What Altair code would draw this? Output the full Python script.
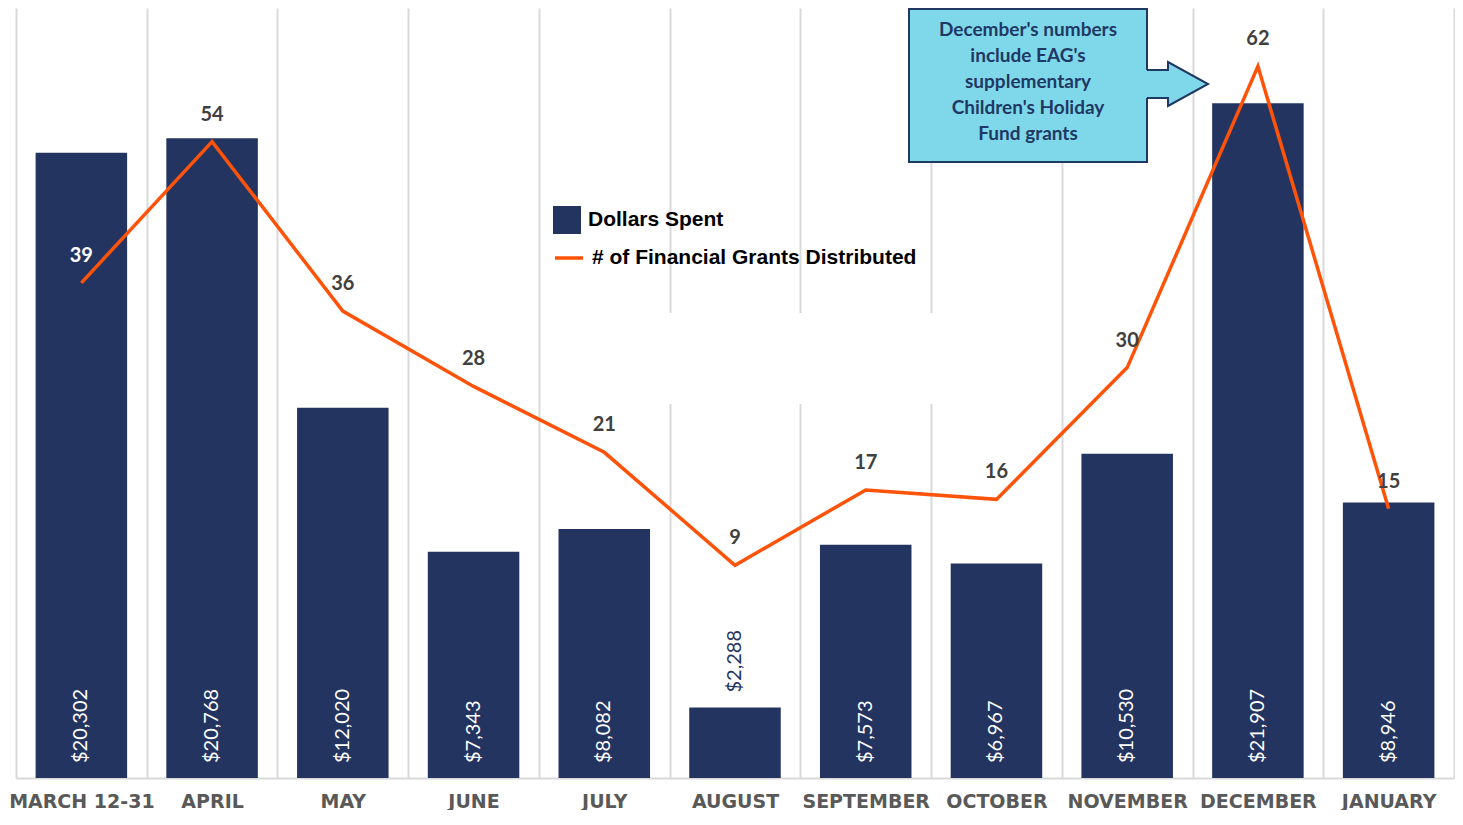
import altair as alt
import pandas as pd

months = ["MARCH 12-31", "APRIL", "MAY", "JUNE", "JULY", "AUGUST",
          "SEPTEMBER", "OCTOBER", "NOVEMBER", "DECEMBER", "JANUARY"]
dollars = [20302, 20768, 12020, 7343, 8082, 2288, 7573, 6967, 10530, 21907, 8946]
grants = [39, 54, 36, 28, 21, 9, 17, 16, 30, 62, 15]
series_names = ["Dollars Spent", "# of Financial Grants Distributed"]
callout_lines = ["December's numbers", "include EAG's", "supplementary",
                 "Children's Holiday", "Fund grants"]

NAVY = "#243461"
ORANGE = "#FF5309"
GRID = "#D9D9D9"
CYAN = "#7FD8E9"
CALLOUT_INK = "#1F3864"
W, H = 1438, 770
D_MAX = 25000
G_MIN, G_MAX = -13.6, 68.2
LABEL_LIFT = 27

df = pd.DataFrame({"month": months, "dollars": dollars, "grants": grants})
one = pd.DataFrame({"k": [0]})

xenc = alt.X(
    "month:N", sort=months,
    scale=alt.Scale(paddingInner=0, paddingOuter=0),
    axis=alt.Axis(title=None, labelAngle=0, grid=True, gridColor=GRID, gridWidth=2,
                  tickBand="extent", ticks=False, domainColor=GRID, domainWidth=2,
                  labelFont="DejaVu Sans", labelFontSize=19, labelFontWeight="bold",
                  labelColor="#595959", labelPadding=14, labelLimit=300),
)
dollar_scale = alt.Scale(domain=[0, D_MAX], nice=False, zero=False)
grant_scale = alt.Scale(domain=[G_MIN, G_MAX], nice=False, zero=False)

gap = alt.Chart(one).mark_rect(color="white").encode(
    x=alt.value(548), x2=alt.value(1030), y=alt.value(305), y2=alt.value(396))

bars = alt.Chart(df).transform_calculate(s1="'Dollars Spent'").mark_bar(
    width=alt.RelativeBandSize(0.7)
).encode(
    x=xenc,
    y=alt.Y("dollars:Q", scale=dollar_scale, axis=None),
    fill=alt.Fill("s1:N", scale=alt.Scale(domain=[series_names[0]], range=[NAVY]),
                  legend=alt.Legend(title=None, orient="none", legendX=537, legendY=198,
                                    symbolType="square", symbolSize=784, padding=0,
                                    symbolStrokeWidth=0,
                                    labelOffset=7, labelFont="Liberation Sans",
                                    labelFontSize=21, labelFontWeight="bold",
                                    labelColor="#000000", labelLimit=500)),
)

bar_labels = alt.Chart(df).transform_calculate(
    ly="datum.dollars < 4000 ? datum.dollars : 0"
).mark_text(angle=270, align="left", baseline="middle", dx=15, font="Lato", fontSize=20).encode(
    x=xenc,
    y=alt.Y("ly:Q", scale=dollar_scale, axis=None),
    text=alt.Text("dollars:Q", format="$,.0f"),
    color=alt.condition("datum.dollars >= 4000", alt.value("#FFFFFF"), alt.value(NAVY)),
)

line = alt.Chart(df).transform_calculate(s2="'# of Financial Grants Distributed'").mark_line(
    strokeWidth=3.5
).encode(
    x=xenc,
    y=alt.Y("grants:Q", scale=grant_scale, axis=None),
    stroke=alt.Stroke("s2:N", scale=alt.Scale(domain=[series_names[1]], range=[ORANGE]),
                      legend=alt.Legend(title=None, orient="none", legendX=537, legendY=234,
                                        symbolType="stroke", symbolSize=784, padding=0,
                                        symbolStrokeWidth=3.5,
                                        labelOffset=7, labelFont="Liberation Sans",
                                        labelFontSize=21, labelFontWeight="bold",
                                        labelColor="#000000", labelLimit=500)),
)

inside_expr = (f"((datum.grants - ({G_MIN})) / ({G_MAX} - ({G_MIN})) + {LABEL_LIFT}/{H}) "
               f"< datum.dollars / {D_MAX}")
line_labels = alt.Chart(df).mark_text(
    dy=-LABEL_LIFT, font="Lato", fontSize=20, fontWeight="bold", baseline="middle"
).encode(
    x=xenc,
    y=alt.Y("grants:Q", scale=grant_scale, axis=None),
    text=alt.Text("grants:Q"),
    color=alt.condition(inside_expr, alt.value("#FFFFFF"), alt.value("#404040")),
)

box = alt.Chart(one).mark_rect(fill=CYAN, stroke=CALLOUT_INK, strokeWidth=2).encode(
    x=alt.value(893), x2=alt.value(1131), y=alt.value(1), y2=alt.value(154))

ARROW = ("M -1.06 -0.459 L -0.311 -0.459 L -0.311 -0.721 L 1 0 "
         "L -0.311 0.721 L -0.311 0.459 L -1.06 0.459")
arrow_fill = alt.Chart(one).mark_point(
    shape=ARROW, size=3721, filled=True, fill=CYAN, opacity=1, strokeWidth=0
).encode(x=alt.value(1161.5), y=alt.value(76))
arrow_edge = alt.Chart(one).mark_point(
    shape="M -1 -0.459 L -0.311 -0.459 L -0.311 -0.721 L 1 0 L -0.311 0.721 L -0.311 0.459 L -1 0.459",
    size=3721, filled=False, stroke=CALLOUT_INK, strokeWidth=2, opacity=1
).encode(x=alt.value(1161.5), y=alt.value(76))

callout_text = alt.Chart(one).mark_text(
    font="Lato", fontSize=19, fontWeight="bold", color=CALLOUT_INK, lineHeight=26,
    align="center", baseline="middle"
).encode(x=alt.value(1012), y=alt.value(22), text=alt.value(callout_lines))

chart = alt.layer(
    gap, bars, bar_labels, line, line_labels, box, arrow_fill, arrow_edge, callout_text
).resolve_scale(
    y="independent", fill="independent", stroke="independent"
).properties(
    width=W, height=H,
    padding={"left": 8, "top": 0, "right": 1, "bottom": 32},
    autosize=alt.AutoSizeParams(type="none"),
).configure_view(strokeWidth=0)

chart.save("out.html", embed_options={"renderer": "svg", "actions": False})
